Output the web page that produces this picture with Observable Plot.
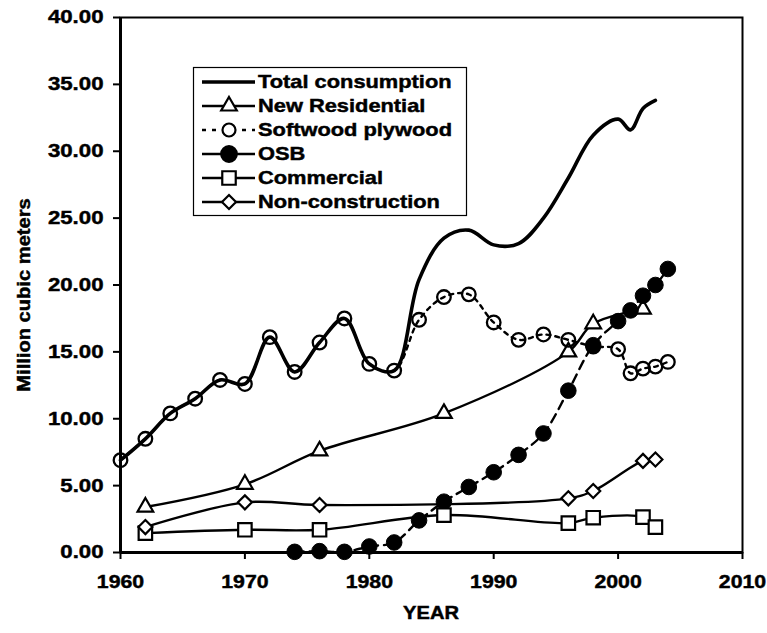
<!DOCTYPE html>
<html>
<head>
<meta charset="utf-8">
<script src="https://cdn.jsdelivr.net/npm/d3@7"></script>
<script src="https://cdn.jsdelivr.net/npm/@observablehq/plot@0.6"></script>
<style>
  html, body { margin: 0; padding: 0; background: #fff; }
  #chart { width: 767px; height: 633px; }
  #chart svg text { stroke: black; stroke-width: 0.45px; paint-order: stroke; }
</style>
</head>
<body>
<div id="chart"></div>
<script>
// ---- data ----
const xTicks = [1960, 1970, 1980, 1990, 2000, 2010];
const yTicks = [0, 5, 10, 15, 20, 25, 30, 35, 40];

const totalYears  = [1960,1962,1964,1966,1968,1970,1972,1974,1976,1978,1980,1982,1984,1986,1988,1990,1992,1994,1996,1998,2000,2001,2002,2003];
const totalValues = [6.9,8.5,10.4,11.5,12.9,12.6,16.1,13.5,15.7,17.5,14.1,13.6,20.4,23.5,24.1,23.0,23.1,25.0,28.0,31.2,32.4,31.6,33.2,33.8];

const residentialYears  = [1962,1970,1976,1986,1996,1998,2002];
const residentialValues = [3.4,5.1,7.6,10.4,15.0,17.1,18.2];

const plywoodYears  = [1960,1962,1964,1966,1968,1970,1972,1974,1976,1978,1980,1982,1984,1986,1988,1990,1992,1994,1996,1998,2000,2001,2002,2003,2004];
const plywoodValues = [6.9,8.5,10.4,11.5,12.9,12.6,16.1,13.5,15.7,17.5,14.1,13.6,17.4,19.1,19.3,17.2,15.9,16.3,15.9,15.4,15.2,13.4,13.75,13.9,14.25];

const osbYears  = [1974,1976,1978,1980,1982,1984,1986,1988,1990,1992,1994,1996,1998,2000,2001,2002,2003,2004];
const osbValues = [0.05,0.1,0.05,0.45,0.75,2.4,3.8,4.9,6.0,7.3,8.9,12.1,15.5,17.3,18.1,19.2,20.0,21.2];

const commercialYears  = [1962,1970,1976,1986,1996,1998,2002,2003];
const commercialValues = [1.45,1.7,1.7,2.8,2.2,2.6,2.65,1.9];

const nonConstructionYears  = [1962,1970,1976,1996,1998,2002,2003];
const nonConstructionValues = [1.9,3.75,3.55,4.05,4.6,6.85,6.95];

const seriesNames = ["Total consumption","New Residential","Softwood plywood","OSB","Commercial","Non-construction"];

// ---- build tables ----
const toRows = (xs, ys) => xs.map((x, i) => ({year: x, value: ys[i]}));
const total = toRows(totalYears, totalValues);
const residential = toRows(residentialYears, residentialValues);
const plywood = toRows(plywoodYears, plywoodValues);
const osb = toRows(osbYears, osbValues);
const commercial = toRows(commercialYears, commercialValues);
const nonConstruction = toRows(nonConstructionYears, nonConstructionValues);

const FONT = "'Liberation Sans', Arial, Helvetica, sans-serif";
const enc = {x: "year", y: "value"};
const SW = 2.4;
const lineBase = {...enc, stroke: "black", strokeWidth: SW, curve: "catmull-rom"};

const chart = Plot.plot({
  width: 767,
  height: 633,
  marginLeft: 120,
  marginRight: 25,
  marginTop: 17,
  marginBottom: 81,
  style: {fontFamily: FONT, fontSize: "18.5px", fontWeight: "bold", color: "black", background: "white"},
  x: {domain: [1960, 2010]},
  y: {domain: [0, 40]},
  marks: [
    Plot.frame({stroke: "black", strokeWidth: 2}),
    Plot.axisX({ticks: xTicks, tickFormat: d => String(d), tickSize: 7, tickPadding: 15, strokeWidth: 2, label: null}),
    Plot.axisY({ticks: yTicks, tickFormat: d => d.toFixed(2), tickSize: 7, tickPadding: 10, strokeWidth: 2, label: null}),
    Plot.ruleX([1960], {stroke: "black", strokeWidth: 3}),
    Plot.ruleY([0], {stroke: "black", strokeWidth: 3}),
    // Total consumption
    Plot.line(total, {...lineBase, strokeWidth: 3.6}),
    // New Residential
    Plot.line(residential, lineBase),
    Plot.dot(residential, {...enc, symbol: d3.symbolTriangle, r: 5.8, stroke: "black", strokeWidth: 2.2, fill: "white"}),
    // Softwood plywood
    Plot.line(plywood, {...lineBase, strokeDasharray: "4,5"}),
    Plot.dot(plywood, {...enc, symbol: d3.symbolCircle, r: 6.8, stroke: "black", strokeWidth: 2.3, fill: "none"}),
    // OSB
    Plot.line(osb, {...lineBase, strokeDasharray: "9,6"}),
    Plot.dot(osb, {...enc, symbol: d3.symbolCircle, r: 7.8, fill: "black", stroke: "black", strokeWidth: 1}),
    // Commercial
    Plot.line(commercial, lineBase),
    Plot.dot(commercial, {...enc, symbol: d3.symbolSquare, r: 7.6, stroke: "black", strokeWidth: 2.2, fill: "white"}),
    // Non-construction
    Plot.line(nonConstruction, lineBase),
    Plot.dot(nonConstruction, {...enc, symbol: d3.symbolDiamond2, r: 6.3, stroke: "black", strokeWidth: 2.2, fill: "white"})
  ]
});

document.getElementById("chart").appendChild(chart);

const svg = d3.select(chart);

// axis titles
svg.append("text")
  .attr("class", "stretch-title")
  .attr("transform", "translate(24,295) rotate(-90)")
  .attr("text-anchor", "middle")
  .attr("dy", "0.35em")
  .style("font-size", "17.5px")
  .text("Million cubic meters");
svg.append("text")
  .attr("class", "stretch-title")
  .attr("x", 431)
  .attr("y", 613)
  .attr("text-anchor", "middle")
  .attr("dy", "0.35em")
  .style("font-size", "17.5px")
  .text("YEAR");

// legend
const lg = svg.append("g").attr("class", "legend").attr("text-anchor", "start");
lg.append("rect").attr("x", 193.5).attr("y", 67.5).attr("width", 273).attr("height", 148)
  .attr("fill", "white").attr("stroke", "black").attr("stroke-width", 1.2);
const rowY = (i) => 82 + i * 24;
const symbolPath = (sym, r) => d3.symbol(sym, Math.PI * r * r)();
const legendSpec = [
  {w: 3.6, dash: null, sym: null},
  {w: SW, dash: null, sym: d3.symbolTriangle, r: 5.8, fill: "white"},
  {w: SW, dash: "4,6", sym: d3.symbolCircle, r: 6.5, fill: "white"},
  {w: SW, dash: null, sym: d3.symbolCircle, r: 7.8, fill: "black"},
  {w: SW, dash: null, sym: d3.symbolSquare, r: 7.6, fill: "white"},
  {w: SW, dash: null, sym: d3.symbolDiamond2, r: 6.3, fill: "white"}
];
seriesNames.forEach((name, i) => {
  const s = legendSpec[i];
  const y = rowY(i);
  const ln = lg.append("line").attr("x1", 202).attr("x2", 255).attr("y1", y).attr("y2", y)
    .attr("stroke", "black").attr("stroke-width", s.w);
  if (s.dash) ln.attr("stroke-dasharray", s.dash);
  if (s.sym) {
    lg.append("path").attr("d", symbolPath(s.sym, s.r))
      .attr("transform", `translate(229,${y})`)
      .attr("fill", s.fill).attr("stroke", "black").attr("stroke-width", 2.2);
  }
  lg.append("text").attr("class", "stretch-legend")
    .attr("x", 258).attr("y", y).attr("dy", "0.35em")
    .attr("text-anchor", "start")
    .style("font-size", "18.5px").text(name);
});

// widen the bold lettering to match the reference's wide glyphs
function stretch(sel, k) {
  sel.each(function () {
    const len = this.getComputedTextLength();
    if (len > 0) {
      this.setAttribute("textLength", (len * k).toFixed(1));
      this.setAttribute("lengthAdjust", "spacingAndGlyphs");
    }
  });
}
stretch(svg.selectAll("g[aria-label='x-axis tick label'] text"), 1.15);
stretch(svg.selectAll("g[aria-label='y-axis tick label'] text"), 1.2);
stretch(svg.selectAll("text.stretch-title"), 1.15);
stretch(svg.selectAll("text.stretch-legend"), 1.18);
</script>
</body>
</html>
